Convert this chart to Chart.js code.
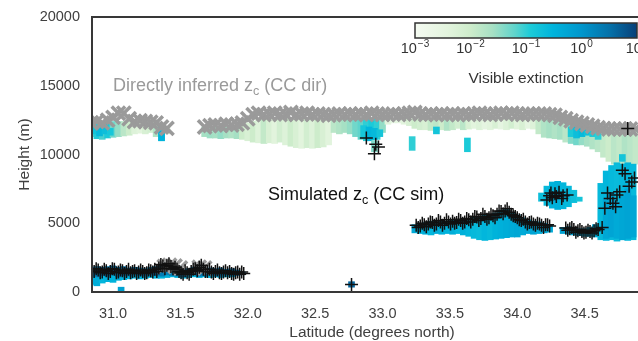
<!DOCTYPE html>
<html>
<head>
<meta charset="utf-8">
<script src="https://cdn.jsdelivr.net/npm/chart.js@4.4.1/dist/chart.umd.min.js"></script>
<style>
  html, body { margin: 0; padding: 0; background: #fff; overflow: hidden; }
  canvas { display: block; }
</style>
</head>
<body>
<canvas id="curtain" width="660" height="341"></canvas>
<script>
(() => {
	'use strict'

	// axis ticks
	const latTicks = [31.0, 31.5, 32.0, 32.5, 33.0, 33.5, 34.0, 34.5];
	const heightTicks = [0, 5000, 10000, 15000, 20000];
	const extTicks = [-3, -2, -1, 0, 1];

	// upper (cirrus) layer: latitude, top (m), base (m), log10 extinction
	const cirrusLat = [
		30.84, 30.88, 30.92, 30.96, 31.00, 31.04, 31.08, 31.12, 31.16, 31.20,
		31.24, 31.28, 31.32, 31.36, 31.40,
		31.68, 31.72, 31.76, 31.80, 31.84, 31.88, 31.92, 31.96, 32.00, 32.04,
		32.08, 32.12, 32.16, 32.20, 32.24, 32.28, 32.32, 32.36, 32.40, 32.44,
		32.48, 32.52, 32.56, 32.60, 32.64, 32.68, 32.72, 32.76, 32.80, 32.84,
		32.88, 32.92, 32.96, 33.00, 33.04, 33.08, 33.12, 33.16, 33.20, 33.24,
		33.28, 33.32, 33.36, 33.40, 33.44, 33.48, 33.52, 33.56, 33.60, 33.64,
		33.68, 33.72, 33.76, 33.80, 33.84, 33.88, 33.92, 33.96, 34.00, 34.04,
		34.08, 34.12, 34.16, 34.20, 34.24, 34.28, 34.32, 34.36, 34.40, 34.44,
		34.48, 34.52, 34.56, 34.60, 34.64, 34.68, 34.72, 34.76, 34.80, 34.84,
		34.88
	];
	const cirrusTop = [
		12400, 12400, 12400, 12400, 12400, 12400, 12400, 12400, 12400, 12400,
		12400, 12400, 12300, 12200, 12000,
		12000, 12000, 12000, 12000, 12000, 12000, 12100, 12200, 12300, 12400,
		12600, 12600, 12600, 12600, 12600, 12600, 12600, 12600, 12600, 12600,
		12600, 12600, 12600, 12600, 12600, 12600, 12600, 12600, 12600, 12600,
		12600, 12600, 12600, 12600, 12600, 12600, 12600, 12600, 12600, 12600,
		12600, 12600, 12600, 12600, 12600, 12600, 12600, 12600, 12600, 12600,
		12600, 12600, 12600, 12600, 12600, 12600, 12600, 12600, 12600, 12600,
		12600, 12600, 12600, 12600, 12600, 12500, 12400, 12300, 12200, 12100,
		12000, 12000, 11900, 11800, 11700, 11700, 11700, 11700, 11700, 11700,
		11700
	];
	const cirrusBase = [
		11300, 11150, 11100, 11200, 11250, 11300, 11350, 11400, 11500, 11550,
		11500, 11600, 11300, 11000, 11500,
		11300, 11200, 11200, 11150, 11200, 11200, 11150, 11100, 11000, 10900,
		10850, 10800, 10850, 10800, 10900, 10700, 10600, 10500, 10450, 10500,
		10450, 10500, 10550, 10700, 11600, 11500, 11600, 11500, 11300, 11100,
		11000, 11050, 11100, 11600, 12200, 12300, 12300, 12200, 12100, 11900,
		11800, 11800, 11750, 11700, 11800, 11750, 11800, 11900, 11800, 11850,
		11900, 11800, 11850, 11800, 11900, 11850, 11800, 11900, 11850, 11800,
		11900, 11850, 11500, 11250, 11200, 11150, 11100, 10900, 10800, 10700,
		10700, 10600, 10400, 10200, 9800, 9500, 9300, 9200, 9100, 9200,
		9300
	];
	const cirrusExt = [
		-1.2, -0.95, -1.1, -0.9, -1.3, -1.5, -1.8, -2.0, -2.3, -2.4,
		-2.2, -2.1, -1.7, -0.9, -2.2,
		-1.6, -1.55, -1.6, -1.5, -1.6, -1.7, -1.6, -2.0, -2.2, -2.0,
		-2.3, -1.9, -2.2, -2.4, -2.1, -2.3, -2.0, -2.2, -2.4, -2.1,
		-2.3, -2.0, -2.2, -2.4, -1.8, -1.7, -1.6, -1.5, -1.3, -1.2,
		-1.0, -0.9, -1.0, -1.5, -2.4, -2.5, -2.5, -2.4, -2.2, -2.0,
		-2.1, -2.2, -1.9, -1.8, -2.0, -1.7, -1.9, -2.1, -1.8, -2.2,
		-2.4, -2.3, -2.5, -2.4, -2.2, -2.5, -2.3, -2.1, -2.4, -2.2,
		-2.5, -2.3, -1.9, -1.7, -1.6, -1.7, -1.6, -1.8, -1.4, -1.3,
		-1.5, -1.6, -1.7, -1.8, -1.9, -2.0, -1.8, -1.9, -1.7, -1.8,
		-1.9
	];
	// directly inferred cloud top height (CC dir), one per cirrus column
	const ccDirHeight = [
		12300, 12400, 12300, 12500, 12700, 13000, 13000, 12600, 12400, 12450,
		12400, 12350, 12300, 12000, 11900,
		12000, 12100, 12150, 12100, 12200, 12150, 12200, 12300, 12600, 12900,
		13000, 12900, 12950, 13000, 12900, 12950, 13050, 12900, 12950, 13000,
		12900, 12950, 12900, 12850, 12900, 12950, 12900, 12950, 12900, 12950,
		12900, 13000, 12950, 12900, 12900, 12950, 12900, 12950, 13000, 13050,
		12950, 12900, 12950, 12900, 12950, 12900, 12950, 12900, 12950, 12900,
		12950, 13000, 12950, 12900, 12950, 13000, 12950, 13000, 12950, 12900,
		12950, 12950, 12950, 12950, 12900, 12850, 12700, 12600, 12450, 12350,
		12250, 12150, 12050, 11950, 11900, 11850, 11850, 11850, 11850, 11850,
		11850
	];
	const ccDirLowLat = [31.38, 31.42, 31.46, 31.50, 31.64, 31.68];
	const ccDirLowHeight = [1850, 1950, 1900, 1750, 1800, 1750];

	// denser patches inside the upper layer
	const patchLat = [30.86, 30.90, 30.94, 30.98, 31.36, 32.86, 32.90, 32.94, 32.94, 32.98, 33.22, 33.40, 33.63, 34.40, 34.44, 34.48, 34.52, 34.56, 34.60, 34.78];
	const patchTop = [12100, 12000, 12000, 11900, 11700, 12100, 12000, 11900, 11000, 11800, 11300, 12000, 11200, 12000, 12050, 11950, 11900, 11800, 11700, 10000];
	const patchBase = [11500, 11350, 11500, 11400, 11000, 11200, 11000, 11100, 10200, 11300, 10300, 11500, 10200, 11300, 11200, 11300, 11400, 11300, 11100, 9500];
	const patchExt = [-0.8, -0.6, -0.7, -0.85, -0.5, -0.85, -0.55, -0.6, -1.4, -0.8, -1.0, -0.8, -0.9, -0.9, -0.7, -0.6, -0.75, -0.9, -1.0, -0.8];

	// boundary layer cloud south of 32N
	const lowLat = [
		30.84, 30.88, 30.92, 30.96, 31.00, 31.04, 31.08, 31.12, 31.16, 31.20,
		31.24, 31.28, 31.32, 31.36, 31.40, 31.44, 31.48, 31.52, 31.56, 31.60,
		31.64, 31.68, 31.72, 31.76, 31.80, 31.84, 31.88, 31.06,
		30.84, 30.88, 30.92, 30.96, 31.00, 31.04, 31.08, 31.12, 31.16, 31.20,
		31.24, 31.28, 31.32, 31.36, 31.40, 31.44, 31.48, 31.52, 31.56, 31.60,
		31.64, 31.68, 31.72, 31.76, 31.80, 31.84, 31.88, 31.92, 31.96, 32.77
	];
	const lowTop = [
		1300, 1300, 1300, 1300, 1300, 1300, 1300, 1300, 1300, 1300,
		1300, 1300, 1300, 1300, 1300, 1300, 1300, 1300, 1300, 1300,
		1300, 1300, 1300, 1300, 1300, 1300, 1300, 350,
		1800, 1850, 1800, 1850, 1900, 1800, 1850, 1750, 1800, 1750,
		1700, 1800, 1850, 2000, 2100, 2050, 1900, 1600, 1700, 1800,
		1950, 1900, 1750, 1700, 1750, 1650, 1700, 1600, 1450, 750
	];
	const lowBase = [
		550, 450, 650, 750, 700, 850, 900, 950, 1000, 950,
		1000, 1050, 1000, 1000, 1050, 1100, 1050, 1000, 1050, 1100,
		1050, 1100, 1050, 1100, 1050, 1100, 1100, 0,
		1150, 1100, 1200, 1150, 1250, 1100, 1200, 1150, 1250, 1200,
		1150, 1250, 1200, 1150, 1250, 1200, 1150, 1100, 1200, 1250,
		1150, 1200, 1250, 1200, 1150, 1250, 1200, 1200, 1250, 350
	];
	const lowExt = [
		-0.5, -0.4, -0.55, -0.45, -0.5, -0.4, -0.45, -0.5, -0.4, -0.45,
		-0.5, -0.4, -0.45, -0.5, -0.4, -0.45, -0.5, -0.4, -0.45, -0.5,
		-0.4, -0.45, -0.5, -0.4, -0.45, -0.5, -0.4, -0.2,
		0.45, 0.35, 0.5, 0.4, 0.45, 0.3, 0.5, 0.4, 0.35, 0.45,
		0.5, 0.4, 0.45, 0.35, 0.3, 0.4, 0.45, 0.5, 0.4, 0.35,
		0.45, 0.4, 0.5, 0.45, 0.35, 0.4, 0.5, 0.45, 0.4, 0.6
	];

	// mid-level layer, the 7 km cell, the 4.5 km deck and the deep column
	const midLat = [
		33.24, 33.28, 33.32, 33.36, 33.40, 33.44, 33.48, 33.52, 33.56, 33.60,
		33.64, 33.68, 33.72, 33.76, 33.80, 33.84, 33.88, 33.92, 33.96, 34.00,
		34.04, 34.08, 34.12, 34.16, 34.20, 34.24,
		34.18, 34.22, 34.26, 34.30, 34.34, 34.38, 34.42, 34.46,
		34.34, 34.38, 34.42, 34.46, 34.50, 34.54, 34.58,
		34.62, 34.66, 34.70, 34.74, 34.78, 34.82, 34.86,
		34.66, 34.70, 34.74, 34.78, 34.82, 34.86
	];
	const midTop = [
		4900, 5000, 5050, 5150, 5100, 5200, 5150, 5250, 5200, 5300,
		5350, 5450, 5500, 5600, 5650, 5750, 5950, 6000, 5800, 5600,
		5400, 5250, 5150, 5100, 5000, 4900,
		7200, 7700, 8000, 8050, 7950, 7700, 7400, 6900,
		4700, 4750, 4650, 4600, 4600, 4700, 4900,
		7900, 8800, 9200, 9400, 9300, 9400, 9300,
		6800, 7200, 6500, 7000, 7500, 7000
	];
	const midBase = [
		4300, 4250, 4200, 4150, 4250, 4200, 4250, 4200, 4250, 4150,
		4050, 3900, 3800, 3750, 3800, 3850, 3900, 3950, 4000, 4000,
		4150, 4250, 4200, 4250, 4300, 4350,
		6600, 6300, 6100, 6000, 6050, 6200, 6500, 6600,
		4250, 4200, 4150, 4100, 4050, 4050, 4000,
		3800, 3750, 3800, 3700, 3800, 3750, 3800,
		3900, 4000, 3900, 3800, 3900, 4000
	];
	const midExt = [
		-0.35, -0.5, -0.4, -0.55, -0.35, -0.45, -0.5, -0.4, -0.55, -0.45,
		-0.55, -0.6, -0.65, -0.55, -0.6, -0.5, -0.45, -0.4, -0.35, -0.3,
		-0.35, -0.3, -0.25, -0.35, -0.3, -0.35,
		-0.7, -0.6, -0.5, -0.45, -0.55, -0.6, -0.7, -0.8,
		-0.2, -0.3, -0.25, -0.3, -0.2, -0.3, -0.35,
		-0.6, -0.55, -0.6, -0.65, -0.6, -0.55, -0.6,
		-0.3, -0.25, -0.35, -0.3, -0.25, -0.3
	];

	// simulated cloud top height (CC sim)
	const ccSimLat = [
		30.86, 30.89, 30.92, 30.95, 30.98, 31.01, 31.04, 31.07, 31.10, 31.13,
		31.16, 31.19, 31.22, 31.25, 31.28, 31.31, 31.34, 31.37, 31.40, 31.43,
		31.46, 31.49, 31.52, 31.55, 31.58, 31.61, 31.64, 31.67, 31.70, 31.73,
		31.76, 31.79, 31.82, 31.85, 31.88, 31.91, 31.94, 31.97,
		30.875, 30.905, 30.935, 30.965, 30.995, 31.025, 31.055, 31.085, 31.115, 31.145,
		31.175, 31.205, 31.235, 31.265, 31.295, 31.325, 31.355, 31.385, 31.415, 31.445,
		31.475, 31.505, 31.535, 31.565, 31.595, 31.625, 31.655, 31.685, 31.715, 31.745,
		31.775, 31.805, 31.835, 31.865, 31.895, 31.925, 31.955,
		32.77, 32.88, 32.95, 32.97, 32.94,
		33.25, 33.28, 33.31, 33.34, 33.37, 33.40, 33.43, 33.46, 33.49, 33.52,
		33.55, 33.58, 33.61, 33.64, 33.67, 33.70, 33.73, 33.76, 33.79, 33.82,
		33.85, 33.88, 33.91, 33.94, 33.97, 34.00, 34.03, 34.06, 34.09, 34.12,
		34.15, 34.18, 34.21, 34.24,
		33.265, 33.295, 33.325, 33.355, 33.385, 33.415, 33.445, 33.475, 33.505, 33.535,
		33.565, 33.595, 33.625, 33.655, 33.685, 33.715, 33.745, 33.775, 33.805, 33.835,
		33.865, 33.895, 33.925, 33.955, 33.985, 34.015, 34.045, 34.075, 34.105, 34.135,
		34.165, 34.195, 34.225,
		34.22, 34.25, 34.26, 34.29, 34.31, 34.34, 34.37, 34.24, 34.28, 34.33,
		34.36, 34.39, 34.42, 34.45, 34.48, 34.51, 34.54, 34.57, 34.60, 34.63,
		34.375, 34.405, 34.435, 34.465, 34.495, 34.525, 34.555, 34.585,
		34.65, 34.67, 34.71, 34.74, 34.78, 34.80, 34.85, 34.87, 34.82,
		34.69, 34.76, 34.83, 34.73
	];
	const ccSimHeight = [
		1500, 1600, 1450, 1550, 1500, 1650, 1450, 1550, 1500, 1400,
		1550, 1450, 1500, 1400, 1550, 1650, 1750, 1900, 1950, 1850,
		1800, 1500, 1300, 1400, 1500, 1700, 1800, 1650, 1500, 1450,
		1500, 1400, 1450, 1400, 1350, 1400, 1300, 1350,
		1700, 1400, 1650, 1350, 1700, 1400, 1600, 1350, 1650, 1500,
		1350, 1600, 1350, 1600, 1450, 1500, 2000, 1700, 2050, 1700,
		1650, 1400, 1550, 1300, 1650, 1550, 1950, 1500, 1650, 1350,
		1600, 1350, 1550, 1500, 1300, 1450, 1450,
		550, 11200, 10750, 10550, 10050,
		4850, 4800, 4900, 4950, 5050, 4950, 5100, 5000, 5100, 5150,
		5050, 5200, 5100, 5250, 5300, 5450, 5350, 5500, 5400, 5550,
		5650, 5850, 5900, 5800, 5550, 5400, 5200, 5100, 5050, 4950,
		5000, 4850, 4900, 4800,
		4700, 5000, 4750, 5100, 4850, 5200, 4850, 5250, 4950, 5000,
		5300, 5000, 5350, 5100, 5500, 5200, 5650, 5300, 5650, 5400,
		5900, 5700, 6050, 5650, 5500, 5250, 5300, 4950, 5100, 4850,
		4950, 4700, 4900,
		6700, 7200, 6850, 6950, 7250, 7000, 7050, 7000, 7150, 6800,
		4650, 4600, 4550, 4450, 4400, 4350, 4400, 4450, 4550, 4700,
		4500, 4700, 4350, 4550, 4300, 4500, 4300, 4600,
		6100, 7200, 6450, 7050, 8850, 8600, 8000, 8300, 11900,
		6800, 7300, 7700, 6200
	];

	const extStops = [
		[0.00, [245, 251, 242]],
		[0.15, [226, 244, 221]],
		[0.25, [205, 236, 203]],
		[0.35, [166, 224, 196]],
		[0.45, [95, 212, 204]],
		[0.52, [28, 203, 216]],
		[0.62, [0, 180, 220]],
		[0.75, [0, 150, 204]],
		[0.88, [5, 112, 168]],
		[1.00, [8, 63, 120]]
	];

	function extColor(value) {
		const t = Math.min(1, Math.max(0, (value + 3) / 4));
		for (let i = 1; i < extStops.length; i++) {
			const [t0, c0] = extStops[i - 1];
			const [t1, c1] = extStops[i];
			if (t <= t1) {
				const f = (t - t0) / (t1 - t0);
				return `rgb(${c0.map((c, k) => Math.round(c + (c1[k] - c) * f)).join(',')})`;
			}
		}
		return 'rgb(8,63,120)';
	}

	function curtain(lat, top, base, ext, order) {
		return {
			type: 'bar',
			data: lat.map((x, i) => ({ x, y: [base[i], top[i]] })),
			backgroundColor: ext.map(extColor),
			borderWidth: 0,
			barThickness: 6,
			grouped: false,
			order
		};
	}

	const font = "'Liberation Sans', Arial, sans-serif";
	Chart.defaults.font.family = font;
	Chart.defaults.color = '#404040';

	function drawSubscripted(ctx, x, y, pieces, size, color) {
		ctx.fillStyle = color;
		ctx.textBaseline = 'middle';
		ctx.textAlign = 'left';
		let cx = x;
		pieces.forEach(([text, sub]) => {
			ctx.font = `${sub ? size * 0.7 : size}px ${font}`;
			ctx.fillText(text, cx, sub ? y + size * 0.3 : y);
			cx += ctx.measureText(text).width;
		});
	}

	const annotations = {
		id: 'annotations',
		afterDatasetsDraw(chart) {
			const { ctx, scales: { x, y } } = chart;
			ctx.save();
			drawSubscripted(ctx, x.getPixelForValue(31.0), y.getPixelForValue(15000),
				[['Directly inferred z', false], ['c', true], [' (CC dir)', false]], 18, '#9a9a9a');
			drawSubscripted(ctx, x.getPixelForValue(32.15), y.getPixelForValue(7050),
				[['Simulated z', false], ['c', true], [' (CC sim)', false]], 18, '#111111');
			ctx.restore();
		}
	};

	const colorbar = {
		id: 'colorbar',
		afterDraw(chart) {
			const { ctx, chartArea } = chart;
			const left = chartArea.left + 323;
			const top = chartArea.top + 6;
			const width = 222;
			const height = 15;
			ctx.save();
			const gradient = ctx.createLinearGradient(left, 0, left + width, 0);
			extStops.forEach(([t, c]) => gradient.addColorStop(t, `rgb(${c.join(',')})`));
			ctx.fillStyle = gradient;
			ctx.fillRect(left, top, width, height);
			ctx.strokeStyle = '#333333';
			ctx.lineWidth = 1.5;
			ctx.strokeRect(left, top, width, height);

			ctx.fillStyle = '#333333';
			ctx.textBaseline = 'middle';
			extTicks.forEach((e, i) => {
				const cx = left + width * i / (extTicks.length - 1);
				const sup = e < 0 ? `\u2212${-e}` : String(e);
				ctx.font = `14.5px ${font}`;
				const baseWidth = ctx.measureText('10').width;
				ctx.font = `10px ${font}`;
				const supWidth = ctx.measureText(sup).width;
				const start = cx - (baseWidth + supWidth + 1) / 2;
				ctx.textAlign = 'left';
				ctx.font = `14.5px ${font}`;
				ctx.fillText('10', start, top + height + 11);
				ctx.font = `10px ${font}`;
				ctx.fillText(sup, start + baseWidth + 1, top + height + 6);
			});
			ctx.font = `15.5px ${font}`;
			ctx.textAlign = 'center';
			ctx.fillText('Visible extinction', left + width / 2, top + height + 41);
			ctx.restore();
		}
	};

	const frame = {
		id: 'frame',
		afterDatasetsDraw(chart) {
			const { ctx, chartArea } = chart;
			ctx.save();
			ctx.strokeStyle = '#383838';
			ctx.lineWidth = 2;
			ctx.strokeRect(chartArea.left, chartArea.top, chartArea.right - chartArea.left, chartArea.bottom - chartArea.top);
			ctx.restore();
		}
	};

	const ccDirPoints = cirrusLat.map((x, i) => ({ x, y: ccDirHeight[i] }))
		.concat(ccDirLowLat.map((x, i) => ({ x, y: ccDirLowHeight[i] })));
	const ccSimPoints = ccSimLat.map((x, i) => ({ x, y: ccSimHeight[i] }));

	new Chart(document.getElementById('curtain'), {
		type: 'bar',
		data: {
			datasets: [
				curtain(cirrusLat, cirrusTop, cirrusBase, cirrusExt, 6),
				curtain(patchLat, patchTop, patchBase, patchExt, 5),
				curtain(lowLat, lowTop, lowBase, lowExt, 4),
				curtain(midLat, midTop, midBase, midExt, 3),
				{
					type: 'scatter',
					data: ccDirPoints,
					pointStyle: 'crossRot',
					pointRadius: 9.5,
					borderWidth: 3.5,
					borderColor: '#9a9a9a',
					backgroundColor: '#9a9a9a',
					order: 2
				},
				{
					type: 'scatter',
					data: ccSimPoints,
					pointStyle: 'cross',
					pointRadius: 6.5,
					borderWidth: 1.5,
					borderColor: '#111111',
					backgroundColor: '#111111',
					order: 1
				}
			]
		},
		options: {
			responsive: false,
			animation: false,
			events: [],
			layout: { autoPadding: false, padding: { top: 17, right: 8, left: 0, bottom: 0 } },
			plugins: {
				legend: { display: false },
				tooltip: { enabled: false }
			},
			scales: {
				x: {
					type: 'linear',
					min: 30.844,
					max: 35.0,
					offset: false,
					grid: { display: false, drawTicks: false, offset: false },
					border: { display: false },
					afterBuildTicks: (scale) => { scale.ticks = latTicks.map((value) => ({ value })); },
					afterFit: (scale) => { scale.height = 49; scale.paddingLeft = 0; scale.paddingRight = 0; },
					ticks: {
						padding: 13,
						color: '#404040',
						font: { size: 14.5 },
						callback: (value) => Number(value).toFixed(1)
					},
					title: {
						display: true,
						text: 'Latitude (degrees north)',
						color: '#404040',
						font: { size: 15.5 },
						padding: { top: 0, bottom: -1 }
					}
				},
				y: {
					min: 0,
					max: 20000,
					grid: { display: false, drawTicks: false },
					border: { display: false },
					afterBuildTicks: (scale) => { scale.ticks = heightTicks.map((value) => ({ value })); },
					afterFit: (scale) => { scale.width = 92; scale.paddingTop = 0; scale.paddingBottom = 0; },
					ticks: {
						padding: 12,
						color: '#404040',
						font: { size: 14.5 },
						callback: (value) => String(value)
					},
					title: {
						display: true,
						text: 'Height (m)',
						color: '#404040',
						font: { size: 15.5 },
						padding: { top: 15, bottom: 0 }
					}
				}
			}
		},
		plugins: [annotations, colorbar, frame]
	});
})()
</script>
</body>
</html>
